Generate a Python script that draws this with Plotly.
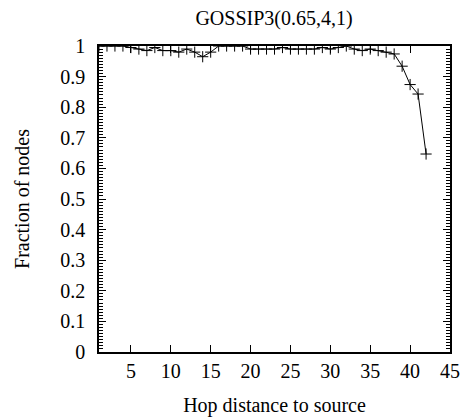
import plotly.graph_objects as go

hops = list(range(1, 43))
fraction = [1.0, 1.0, 1.0, 1.0, 0.995, 0.99, 0.985, 0.995, 0.985, 0.985,
            0.98, 0.99, 0.98, 0.965, 0.98, 1.0, 1.0, 1.0, 1.0, 0.99,
            0.99, 0.99, 0.99, 0.995, 0.99, 0.99, 0.99, 0.99, 0.995, 0.99,
            0.995, 1.0, 0.99, 0.985, 0.99, 0.985, 0.98, 0.974, 0.934, 0.874,
            0.843, 0.647]

x_ticks = [5, 10, 15, 20, 25, 30, 35, 40, 45]
y_ticks = [i / 10 for i in range(11)]
y_tick_text = ["0", "0.1", "0.2", "0.3", "0.4", "0.5", "0.6", "0.7", "0.8", "0.9", "1"]

font = "Liberation Serif, Times New Roman, Times, serif"

fig = go.Figure()
fig.add_trace(go.Scatter(
    x=hops, y=fraction, mode="lines+markers",
    line=dict(color="black", width=1),
    marker=dict(symbol="cross-thin", size=8, line=dict(color="black", width=1)),
    showlegend=False,
))

fig.update_layout(
    width=466, height=417,
    margin=dict(l=99, r=16, t=46, b=65),
    paper_bgcolor="white", plot_bgcolor="white",
    font=dict(family=font, size=20, color="black"),
    title=dict(text="GOSSIP3(0.65,4,1)", x=0.588, xanchor="center", y=0.958, yanchor="middle",
               font=dict(family=font, size=20)),
    xaxis=dict(
        range=[1, 45], tickmode="array", tickvals=x_ticks,
        ticks="inside", ticklen=7, tickwidth=1.4, tickcolor="black",
        automargin=False,
        showline=True, linecolor="black", linewidth=1.5, mirror="ticks",
        showgrid=False, zeroline=False, ticklabelstandoff=0,
        tickfont=dict(family=font, size=20),
        title=dict(text="Hop distance to source", standoff=22, font=dict(family=font, size=20)),
    ),
    yaxis=dict(
        range=[0, 1], tickmode="array", tickvals=y_ticks, ticktext=y_tick_text,
        ticks="inside", ticklen=7, tickwidth=1.4, tickcolor="black",
        minor=dict(tickmode="linear", tick0=0, dtick=0.01, ticks="inside",
                   ticklen=4, tickwidth=1, tickcolor="black", showgrid=False),
        automargin=False,
        showline=True, linecolor="black", linewidth=1.5, mirror="ticks",
        showgrid=False, zeroline=False, ticklabelstandoff=8,
        tickfont=dict(family=font, size=20),
        title=dict(text="Fraction of nodes", standoff=25, font=dict(family=font, size=20)),
    ),
)

fig.write_html("out.html")
